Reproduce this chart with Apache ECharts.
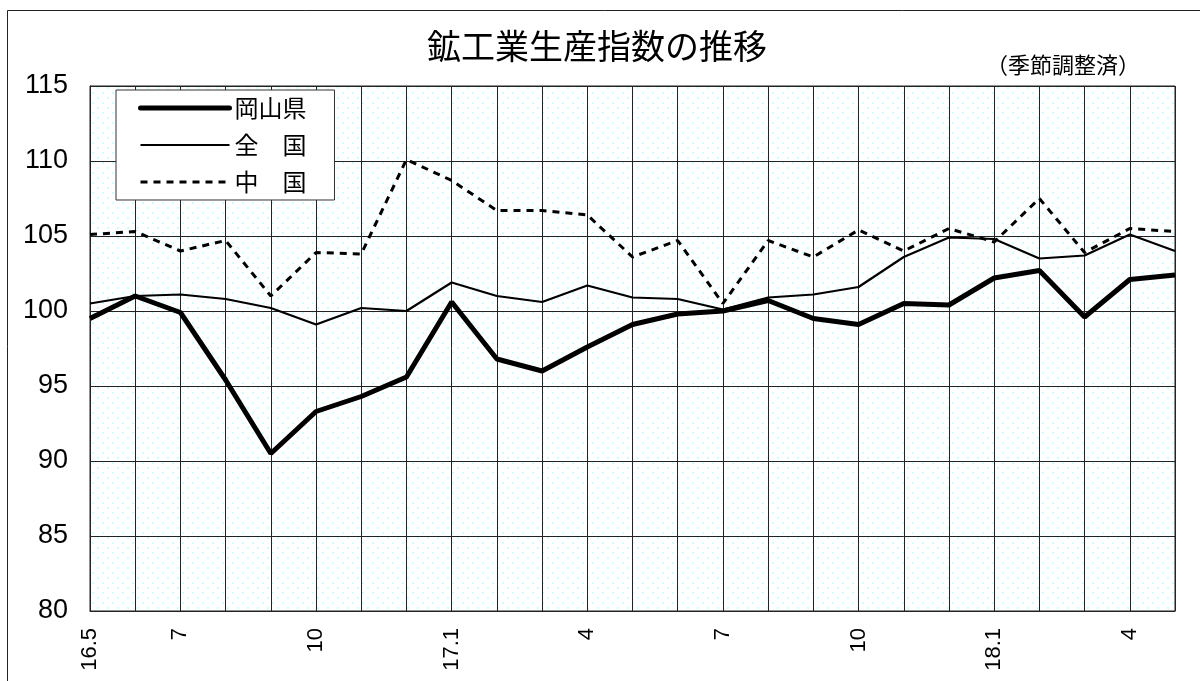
<!DOCTYPE html>
<html>
<head>
<meta charset="utf-8">
<script src="https://cdn.jsdelivr.net/npm/echarts@6/dist/echarts.min.js"></script>
<style>
html,body{margin:0;padding:0;background:#fff;}
#c{width:1200px;height:681px;}
</style>
</head>
<body>
<div id="c"></div>
<script>
const months = ['16.5','6','7','8','9','10','11','12','17.1','2','3','4','5','6','7','8','9','10','11','12','18.1','2','3','4','5'];
const labeledIdx = [0,2,5,8,11,14,17,20,23];
const okayama = [99.5,101.0,99.9,95.4,90.5,93.3,94.3,95.6,100.6,96.8,96.0,97.6,99.1,99.8,100.0,100.7,99.5,99.1,100.5,100.4,102.2,102.7,99.6,102.1,102.4];
const zenkoku = [100.5,101.0,101.1,100.8,100.2,99.1,100.2,100.0,101.9,101.0,100.6,101.7,100.9,100.8,100.1,100.9,101.1,101.6,103.6,104.9,104.8,103.5,103.7,105.1,104.0];
const chugoku = [105.1,105.3,104.0,104.7,101.0,103.9,103.8,110.1,108.7,106.7,106.7,106.4,103.6,104.7,100.5,104.7,103.6,105.4,104.0,105.5,104.6,107.5,103.9,105.5,105.3];
const yTicks = [80,85,90,95,100,105,110,115];

// dotted background pattern
const pc = document.createElement('canvas');
pc.width = 10; pc.height = 10;
const pctx = pc.getContext('2d');
pctx.fillStyle = '#ffffff';
pctx.fillRect(0,0,10,10);
pctx.fillStyle = '#d2fcfd';
pctx.fillRect(2,2,2,2);
pctx.fillRect(7,7,2,2);

const chart = echarts.init(document.getElementById('c'));
const labelSet = new Set(labeledIdx);
const jp = '"Noto Sans CJK JP", sans-serif';
const styles = {
  '岡山県': {width: 5, type: 'solid'},
  '全　国': {width: 2.2, type: 'solid'},
  '中　国': {width: 3, type: [7, 6]}
};
const names = ['岡山県','全　国','中　国'];
chart.setOption({
  backgroundColor: '#fff',
  animation: false,
  title: [
    {text: '鉱工業生産指数の推移', left: 592, top: 24, textAlign: 'center',
     textStyle: {fontFamily: jp, fontSize: 34, fontWeight: 'normal', color: '#000'}},
    {text: '（季節調整済）', left: 1058, top: 49, textAlign: 'center',
     textStyle: {fontFamily: jp, fontSize: 22, fontWeight: 'normal', color: '#000'}}
  ],
  graphic: [
    {type: 'rect', left: 5, top: 8, shape: {width: 1300, height: 800},
     style: {fill: 'none', stroke: '#222', lineWidth: 1}, silent: true, z: -1}
  ],
  legend: {
    orient: 'vertical', left: 116, top: 90,
    backgroundColor: '#fff', borderColor: '#333', borderWidth: 1,
    padding: [6, 28, 6, 22], itemGap: 13, itemWidth: 89, itemHeight: 20,
    textStyle: {fontFamily: jp, fontSize: 24, color: '#000'},
    data: names.map(n => ({
      name: n,
      itemStyle: {opacity: 0},
      lineStyle: {color: '#000', width: styles[n].width, type: styles[n].type, cap: n === '岡山県' ? 'round' : 'butt'}
    }))
  },
  grid: {left: 90, top: 86, width: 1085, height: 525, show: true,
         backgroundColor: {image: pc, repeat: 'repeat'}, borderColor: '#222', borderWidth: 1},
  xAxis: {
    type: 'category', data: months, boundaryGap: false,
    axisLine: {lineStyle: {color: '#222', width: 1}},
    axisTick: {show: false},
    axisLabel: {rotate: 90, margin: 17, interval: (i) => labelSet.has(i),
      fontFamily: 'Liberation Sans, Arial, sans-serif', fontSize: 22, color: '#000'},
    splitLine: {show: true, interval: 0, lineStyle: {color: '#222', width: 1}}
  },
  yAxis: {
    type: 'value', min: yTicks[0], max: yTicks[yTicks.length-1], interval: 5,
    axisLine: {show: true, lineStyle: {color: '#222', width: 1}},
    axisTick: {show: false},
    axisLabel: {margin: 22, fontFamily: '"Liberation Sans Narrow", "Liberation Sans", Arial, sans-serif', fontSize: 27, color: '#000'},
    splitLine: {show: true, lineStyle: {color: '#222', width: 1}}
  },
  series: [
    {name: names[0], type: 'line', data: okayama, symbol: 'none', z: 5,
     lineStyle: {color: '#000', width: styles[names[0]].width}, itemStyle: {color: '#000'}},
    {name: names[1], type: 'line', data: zenkoku, symbol: 'none', z: 4,
     lineStyle: {color: '#000', width: styles[names[1]].width}, itemStyle: {color: '#000'}},
    {name: names[2], type: 'line', data: chugoku, symbol: 'none', z: 3,
     lineStyle: {color: '#000', width: styles[names[2]].width, type: styles[names[2]].type}, itemStyle: {color: '#000'}}
  ]
});
</script>
</body>
</html>
